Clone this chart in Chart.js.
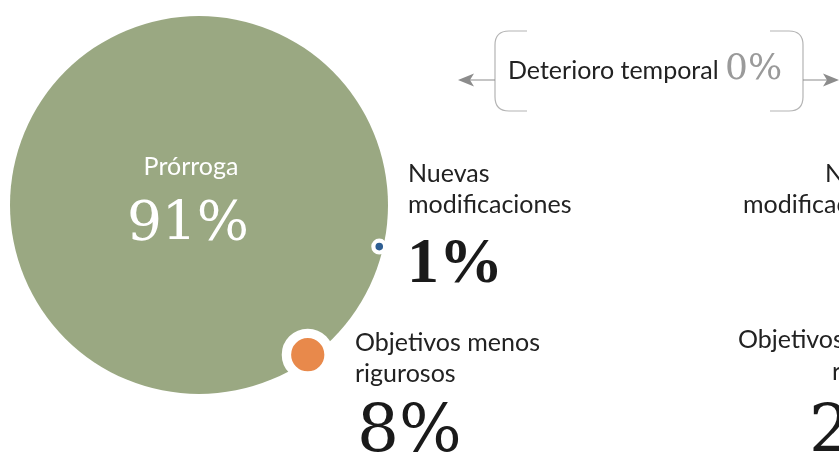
<!DOCTYPE html>
<html><head><meta charset="utf-8">
<script src="https://cdn.jsdelivr.net/npm/chart.js@4"></script>
<style>html,body{margin:0;padding:0;background:#fff;overflow:hidden}#c{display:block}</style>
</head><body>
<canvas id="c" width="839" height="454"></canvas>
<script>
// ---- data ----
const categories = ['Prórroga', 'Nuevas modificaciones', 'Objetivos menos rigurosos', 'Deterioro temporal'];
const shares = [91, 1, 8, 0];
// second panel, only partly visible at the right edge
const rightCategories = ['Nuevas modificaciones', 'Objetivos menos rigurosos'];
const rightValueVisible = '2';

// ---- styles / layout ----
const colors = ['#9aa882', '#2e5e92', '#e8894b'];
const W = 839, H = 454;
const CX = 199, CY = 205;            // centre of the main circle
const K = 189 / 91;                  // px of radius per percentage point
const MIN_R = 3.8;
const haloRing = [0, 4.2, 9.4];
const orbitAngles = [0, 13, 54];     // degrees below horizontal

const fillR = shares.slice(0, 3).map(v => Math.max(MIN_R, v * K));
const orbit = fillR[0] - 4;
const bubbleData = fillR.map((r, i) => {
  const a = orbitAngles[i] * Math.PI / 180;
  const d = i === 0 ? 0 : orbit;
  return { x: CX + d * Math.cos(a), y: CY + d * Math.sin(a), r: r + haloRing[i] / 2 };
});

const SANS = 'Lato, "Open Sans", sans-serif';
const SERIF = '"DejaVu Serif", "Liberation Serif", serif';
const SERIF2 = '"Liberation Serif", serif';

const overlay = {
  id: 'overlay',
  afterDraw(chart) {
    const ctx = chart.ctx;
    const xs = chart.scales.x, ys = chart.scales.y;
    const px = v => xs.getPixelForValue(v), py = v => ys.getPixelForValue(v);
    const txt = (s, x, y, font, color, align) => {
      ctx.font = font; ctx.fillStyle = color; ctx.textAlign = align || 'left';
      ctx.textBaseline = 'alphabetic'; ctx.fillText(s, px(x), py(y));
    };
    ctx.save();
    // main circle labels
    txt(categories[0], 191, 175, '25px ' + SANS, '#ffffff', 'center');
    txt(shares[0] + '%', 188, 240, '55px ' + SERIF, '#ffffff', 'center');
    // Nuevas modificaciones
    const nm = categories[1].split(' ');
    txt(nm[0], 408, 182, '25px ' + SANS, '#222222');
    txt(nm[1], 408, 213, '25px ' + SANS, '#222222');
    txt(shares[1] + '%', 407, 282, 'bold 64px ' + SERIF2, '#1a1a1a');
    // Objetivos menos rigurosos
    txt('Objetivos menos', 355, 351, '25px ' + SANS, '#222222');
    txt('rigurosos', 355, 382, '25px ' + SANS, '#222222');
    txt(shares[2] + '%', 357, 451, '66px ' + SERIF, '#1a1a1a');
    // Deterioro temporal bracket
    txt(categories[3], 508, 79, '25px ' + SANS, '#222222');
    txt(shares[3] + '%', 725, 79, '36px ' + SERIF, '#9a9a9a');
    ctx.strokeStyle = '#b4b4b4'; ctx.lineWidth = 1.2;
    ctx.beginPath();
    ctx.moveTo(px(527), py(31)); ctx.lineTo(px(509), py(31));
    ctx.quadraticCurveTo(px(495), py(31), px(495), py(45));
    ctx.lineTo(px(495), py(97));
    ctx.quadraticCurveTo(px(495), py(111), px(509), py(111));
    ctx.lineTo(px(527), py(111));
    ctx.moveTo(px(770), py(31)); ctx.lineTo(px(789), py(31));
    ctx.quadraticCurveTo(px(803), py(31), px(803), py(45));
    ctx.lineTo(px(803), py(97));
    ctx.quadraticCurveTo(px(803), py(111), px(789), py(111));
    ctx.lineTo(px(770), py(111));
    ctx.stroke();
    // arrows
    ctx.strokeStyle = '#8c8c8c'; ctx.fillStyle = '#8c8c8c'; ctx.lineWidth = 1.2;
    ctx.beginPath();
    ctx.moveTo(px(495), py(80)); ctx.lineTo(px(468), py(80));
    ctx.moveTo(px(803), py(80)); ctx.lineTo(px(830), py(80));
    ctx.stroke();
    const head = (tip, dir) => {
      ctx.beginPath();
      ctx.moveTo(px(tip), py(80));
      ctx.lineTo(px(tip + dir * 16), py(73.5));
      ctx.lineTo(px(tip + dir * 12), py(80));
      ctx.lineTo(px(tip + dir * 16), py(86.5));
      ctx.closePath(); ctx.fill();
    };
    head(458, 1); head(839, -1);
    // right panel (cut off by the frame)
    const rn = rightCategories[0].split(' ');
    txt(rn[0], 825, 182, '25px ' + SANS, '#222222');
    txt(rn[1], 743, 213, '25px ' + SANS, '#222222');
    txt('Objetivos menos', 738, 348, '25px ' + SANS, '#222222');
    txt('rigurosos', 832, 380, '25px ' + SANS, '#222222');
    txt(rightValueVisible, 809, 451, '66px ' + SERIF, '#1a1a1a');
    ctx.restore();
  }
};

new Chart(document.getElementById('c'), {
  type: 'bubble',
  data: {
    datasets: [{
      data: bubbleData,
      backgroundColor: colors,
      borderColor: '#ffffff',
      borderWidth: haloRing,
      hoverBorderWidth: haloRing
    }]
  },
  options: {
    responsive: false,
    animation: false,
    devicePixelRatio: 1,
    events: [],
    layout: { padding: 0, autoPadding: false },
    plugins: { legend: { display: false }, tooltip: { enabled: false } },
    scales: {
      x: { type: 'linear', min: 0, max: W, display: false },
      y: { type: 'linear', min: 0, max: H, reverse: true, display: false }
    }
  },
  plugins: [overlay]
});
</script>
</body></html>
